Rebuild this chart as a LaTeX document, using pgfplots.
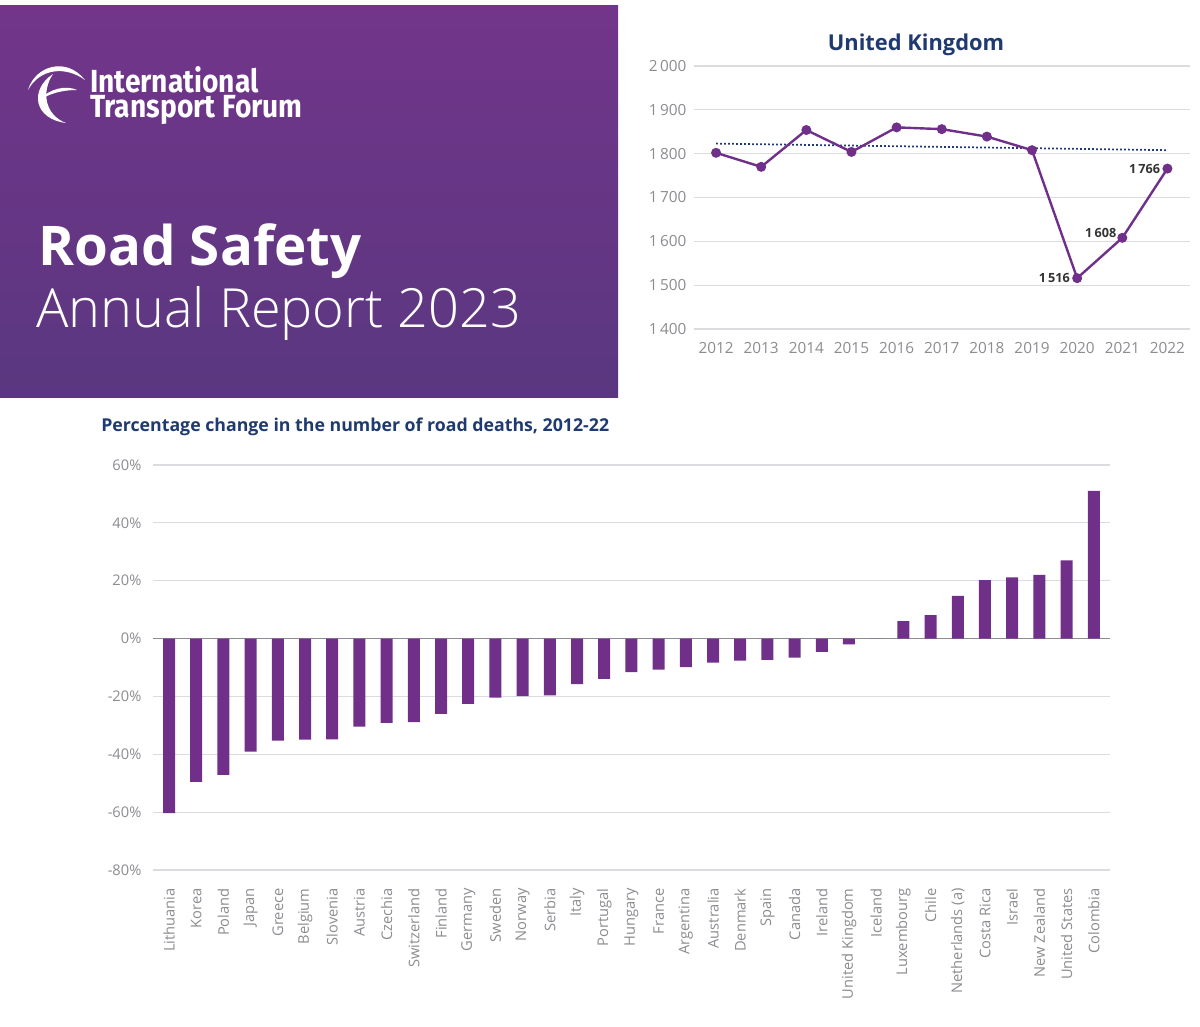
\documentclass[border=0pt]{standalone}
\usepackage{fontspec}
\setmainfont{Open Sans}
\newfontfamily\lightfont{Open Sans Light}
\newfontfamily\itffont[FakeStretch=0.88]{Fira Sans}
\usepackage{pgfplots}
\pgfplotsset{compat=1.18}
\definecolor{itfpurple}{RGB}{112,48,138}
\definecolor{navy}{RGB}{31,58,112}
\definecolor{tickgray}{RGB}{140,140,145}
\definecolor{gridgray}{RGB}{220,220,224}
\definecolor{zerogray}{RGB}{140,140,145}
\definecolor{bannertop}{RGB}{114,53,138}
\definecolor{bannerbot}{RGB}{90,55,128}
\begin{document}
\begin{tikzpicture}
\useasboundingbox (0,0) rectangle (900pt,-769.5pt);
\fill[white] (0,0) rectangle (900pt,-769.5pt);
\begin{scope}[x=0.75pt,y=-0.75pt]
\shade[top color=bannertop,bottom color=bannerbot] (0,5) rectangle (618,397);
% logo
\fill[white] (28,90) .. controls (35,66) and (66,56) .. (85,80) .. controls (66,66) and (40,68) .. (28,90) -- cycle;
\fill[white] (53,74) .. controls (29,90) and (34,119) .. (66,123) .. controls (45,115) and (41,92) .. (53,74) -- cycle;
\fill[white] (38,101) .. controls (50,88) and (66,85) .. (77,90) .. controls (63,90) and (50,93) .. (38,101) -- cycle;
\node[anchor=base west, inner sep=0, align=left, text=white, font=\itffont\bfseries\fontsize{24}{18.75}\selectfont] at (90,117) {International\\Transport Forum};
\node[anchor=base west, inner sep=0, text=white, font=\bfseries\fontsize{41}{45}\selectfont] at (38,265) {Road Safety};
\node[anchor=base west, inner sep=0, text=white, font=\lightfont\fontsize{40.5}{44}\selectfont] at (36,327) {Annual Report 2023};
\node[anchor=base, inner sep=0, text=navy, font=\bfseries\fontsize{16.4}{19}\selectfont] at (916,50) {United Kingdom};
\node[anchor=base west, inner sep=0, text=navy, font=\bfseries\fontsize{13.3}{16}\selectfont] at (101,431) {Percentage change in the number of road deaths, 2012-22};
\end{scope}

% ---------- United Kingdom line chart ----------
\begin{axis}[
  at={(520.125pt,-246.75pt)}, anchor=south west, scale only axis,
  width=372.375pt, height=197.25pt,
  xmin=2011.5, xmax=2022.5, ymin=1400, ymax=2000,
  xtick={2012,2013,...,2022}, ytick={1400,1500,...,2000},
  axis line style={draw=none}, major tick style={draw=none},
  ymajorgrids, grid style={gridgray, line width=0.8pt},
  /pgf/number format/assume math mode=true,
  tick label style={font=\fontsize{11.5}{13}\selectfont, text=tickgray},
  x tick label style={/pgf/number format/1000 sep={}, yshift=-6.5pt},
  y tick label style={/pgf/number format/1000 sep={\,}, xshift=-1.8pt},
  clip=false,
]
\addplot[navy, line width=1.3pt, dash pattern=on 1.3pt off 1.7pt] coordinates {(2012,1823) (2022,1808)};
\addplot[itfpurple, line width=1.8pt, mark=*, mark size=2.8pt, mark options={fill=itfpurple}] coordinates {
(2012,1802) (2013,1770) (2014,1854) (2015,1804) (2016,1860) (2017,1856)
(2018,1839) (2019,1808) (2020,1516) (2021,1608) (2022,1766)};
\addplot[draw=none, mark=none, nodes near coords, point meta=explicit symbolic,
  nodes near coords style={anchor=east, font=\bfseries\fontsize{9.5}{11}\selectfont, text=black!80, xshift=-2pt}]
  coordinates {(2020,1516) [1\,516] (2022,1766) [1\,766]};
\addplot[draw=none, mark=none, nodes near coords, point meta=explicit symbolic,
  nodes near coords style={anchor=east, font=\bfseries\fontsize{9.5}{11}\selectfont, text=black!80, xshift=-1pt, yshift=4pt}]
  coordinates {(2021,1608) [1\,608]};
\end{axis}

% ---------- Bar chart ----------
\begin{axis}[
  at={(114.525pt,-652.5pt)}, anchor=south west, scale only axis,
  width=718.05pt, height=303.75pt,
  ybar, bar width=9pt,
  xmin=-0.6, xmax=34.6, ymin=-80, ymax=60,
  ytick={-80,-60,...,60},
  yticklabel={\pgfmathprintnumber[assume math mode=true]{\tick}\%},
  xtick={0,1,...,34},
  xticklabels={Lithuania,Korea,Poland,Japan,Greece,Belgium,Slovenia,Austria,Czechia,Switzerland,Finland,Germany,Sweden,Norway,Serbia,Italy,Portugal,Hungary,France,Argentina,Australia,Denmark,Spain,Canada,Ireland,United Kingdom,Iceland,Luxembourg,Chile,Netherlands (a),Costa Rica,Israel,New Zealand,United States,Colombia},
  axis line style={draw=none}, major tick style={draw=none},
  ymajorgrids, grid style={gridgray, line width=0.8pt},
  tick label style={font=\fontsize{11}{13}\selectfont, text=tickgray},
  y tick label style={xshift=-5pt},
  x tick label style={rotate=90, anchor=east, xshift=-6pt},
  extra y ticks={0}, extra y tick labels={},
  extra y tick style={grid style={zerogray, line width=1pt}},
]
\addplot[fill=itfpurple, draw=none] coordinates {
(0,-60.3) (1,-49.5) (2,-47.1) (3,-39.1) (4,-35.3) (5,-34.9) (6,-34.8)
(7,-30.4) (8,-29.1) (9,-28.9) (10,-26.0) (11,-22.6) (12,-20.4) (13,-19.9)
(14,-19.6) (15,-15.7) (16,-13.9) (17,-11.6) (18,-10.7) (19,-9.9) (20,-8.3)
(21,-7.6) (22,-7.4) (23,-6.6) (24,-4.6) (25,-2.0) (26,0) (27,6.0) (28,8.1)
(29,14.8) (30,20.2) (31,21.2) (32,22.0) (33,27.0) (34,51.1)};
\end{axis}
\end{tikzpicture}
\end{document}
